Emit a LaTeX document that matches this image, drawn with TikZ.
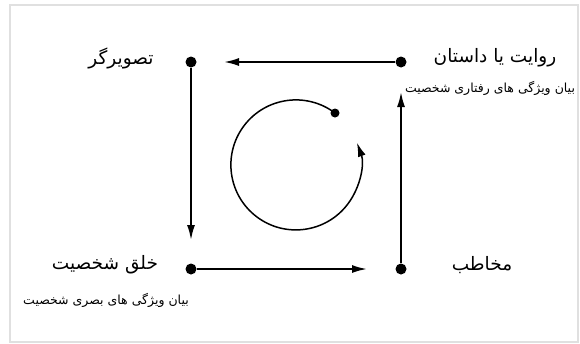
\documentclass[tikz,border=0pt]{standalone}
\usepackage{fontspec}
\TeXXeTstate=1
\newfontfamily\arabicfont[Script=Arabic]{DejaVu Sans}
\usetikzlibrary{arrows.meta}
\tikzset{
  dotnode/.style={circle,fill=black,inner sep=0pt,minimum size=11pt},
  flow/.style={line width=1.8pt,-{Latex[length=15pt,width=8pt]}},
  biglabel/.style={font=\arabicfont\fontsize{18.5}{22}\selectfont,inner sep=0pt},
  smalllabel/.style={font=\arabicfont\fontsize{12.5}{15}\selectfont,inner sep=0pt}
}
\begin{document}
\begin{tikzpicture}[x=1pt,y=-1pt]
\useasboundingbox (0,0) rectangle (580,343);
\draw[line width=2pt,draw=black!12] (9.5,5) rectangle (578,341.5);
\node[dotnode] (tl) at (191,62) {};
\node[dotnode] (tr) at (401,62) {};
\node[dotnode] (bl) at (191,269) {};
\node[dotnode] (br) at (401,269) {};
\coordinate (tlend) at (224,62);
\coordinate (blend) at (191,240);
\coordinate (brend) at (367,269);
\coordinate (trend) at (401,92);
\draw[flow] (tr) -- (tlend);
\draw[flow] (tl) -- (blend);
\draw[flow] (bl) -- (brend);
\draw[flow] (br) -- (trend);
% cycle
\node[circle,fill=black,inner sep=0pt,minimum size=9pt] (cdot) at (335,113) {};
\draw[line width=1.5pt,-{Latex[length=14pt,width=8pt]}] (cdot.center) arc[start angle=53,end angle=380,x radius=65,y radius=-65];
% labels
\node[biglabel] (l1) at (121,58) {\beginR تصویرگر\endR};
\node[biglabel] (l2) at (495,58) {\beginR روایت یا داستان\endR};
\node[smalllabel] (l3) at (490,88) {\beginR بیان ویژگی های رفتاری شخصیت\endR};
\node[biglabel] (l4) at (105,265) {\beginR خلق شخصیت\endR};
\node[smalllabel] (l5) at (106,300) {\beginR بیان ویژگی های بصری شخصیت\endR};
\node[biglabel] (l6) at (482,265) {\beginR مخاطب\endR};
\end{tikzpicture}
\end{document}
